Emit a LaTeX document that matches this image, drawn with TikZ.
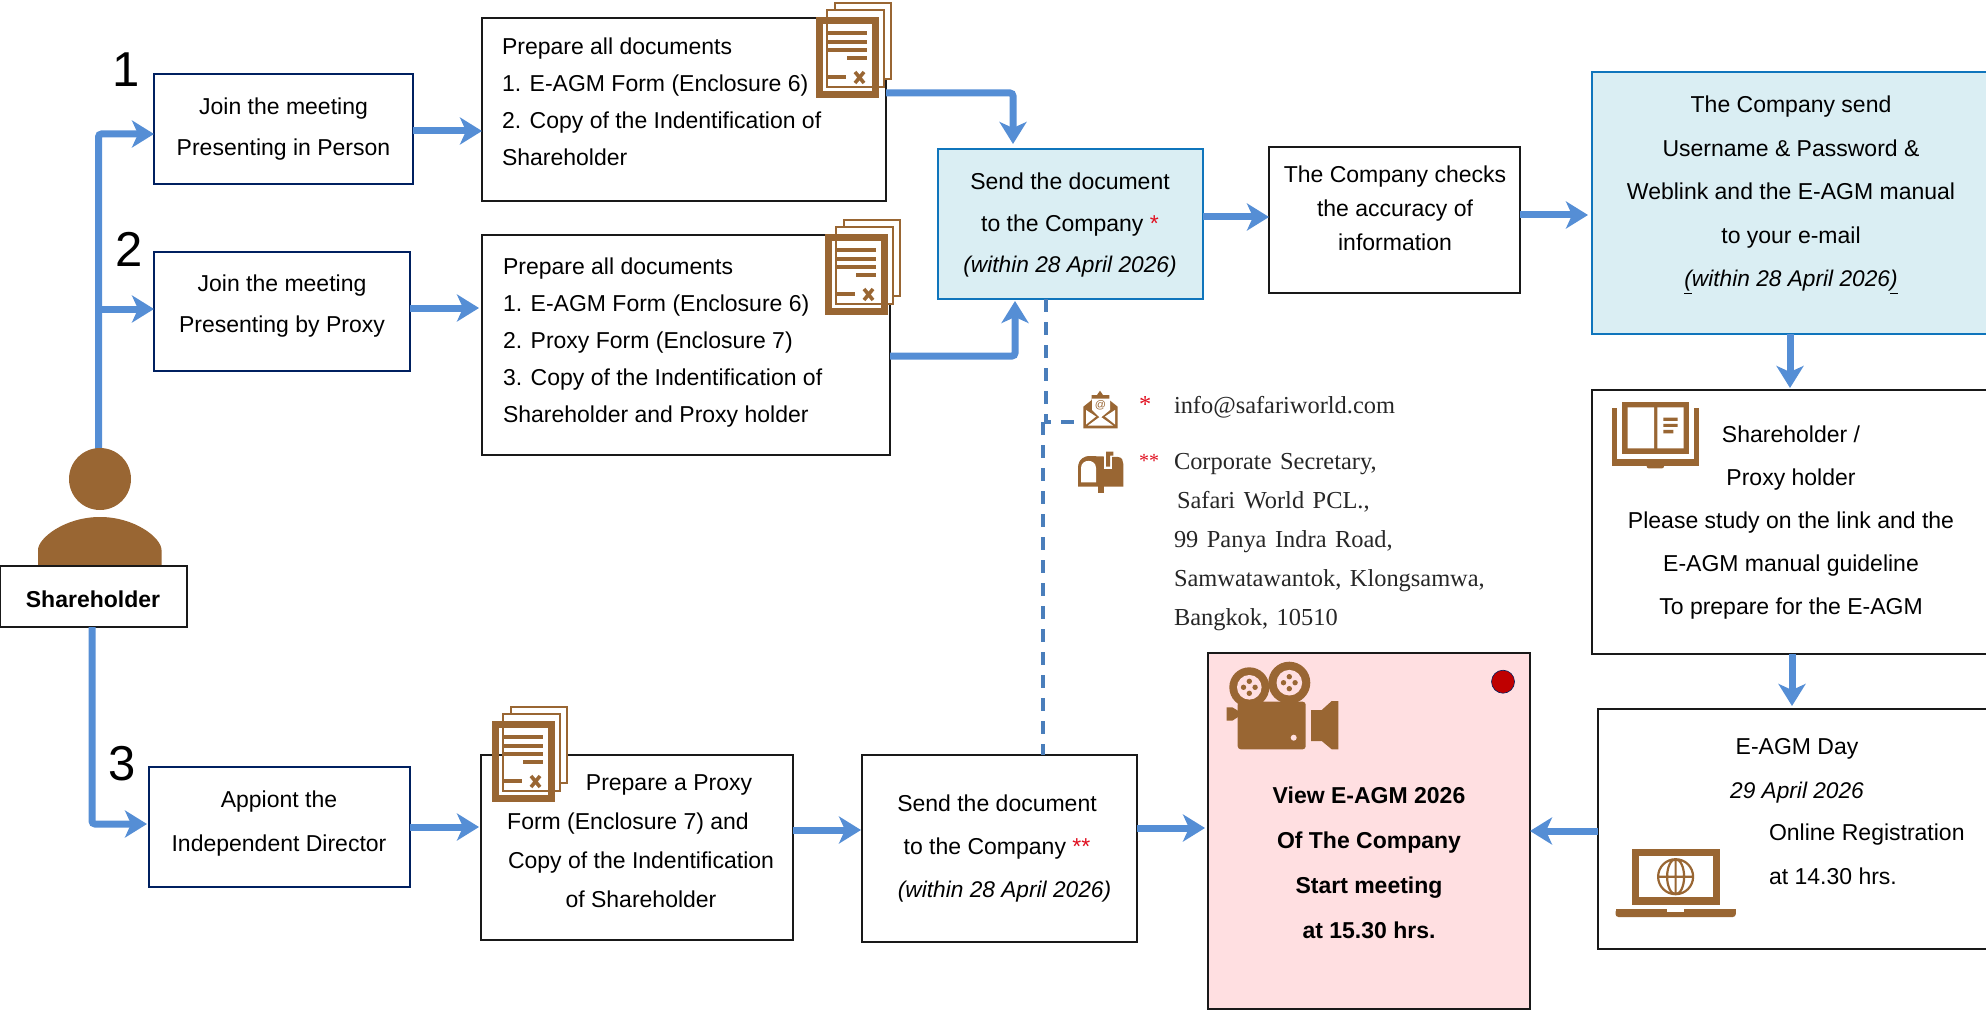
\documentclass[tikz,border=0pt]{standalone}
\usepackage{fontspec}
\setmainfont{Liberation Sans}
\newfontfamily\addrfont[WordSpace=1.4]{Liberation Serif}
\usetikzlibrary{arrows.meta,calc}
\definecolor{iconbrown}{HTML}{996633}
\definecolor{flowblue}{HTML}{558ED5}
\definecolor{dashblue}{HTML}{4A7EBB}
\definecolor{navybox}{HTML}{002060}
\definecolor{sendblue}{HTML}{0F75BC}
\definecolor{paleblue}{HTML}{DAEEF3}
\definecolor{palepink}{HTML}{FFDFE1}
\definecolor{starred}{HTML}{E01020}
\newcommand\cblk[2]{\vtop{\baselineskip=#1pt\lineskiplimit=-1000pt\lineskip=0pt\halign{\hfil##\hfil\cr#2}}}
\newcommand\lblk[2]{\vtop{\baselineskip=#1pt\lineskiplimit=-1000pt\lineskip=0pt\halign{##\hfil\cr#2}}}
\newcommand\bx[6]{\pgfmathsetmacro\bxw{#5-#3}\pgfmathsetmacro\bxh{#6-#4}%
  \node[#1,minimum width=\bxw pt,minimum height=\bxh pt,anchor=north west] (#2) at (#3,#4) {};}
\newcommand\redstar[1]{\textcolor{starred}{#1}}
\newcommand\docicon[2]{\begin{scope}[shift={(#1,#2)}]
  \draw[iconbrown,line width=1.6pt,fill=white] (19,-14) rectangle (75,62);
  \draw[iconbrown,line width=1.6pt,fill=white] (11,-7) rectangle (68,70);
  \draw[iconbrown,line width=7.5pt] (3.7,3.7) rectangle (59.3,77.3);
  \draw[iconbrown,line width=4pt] (12,16) -- (51,16) (12,25) -- (51,25) (12,33) -- (51,33) (31,41) -- (51,41) (12,60) -- (30,60);
  \draw[iconbrown,line width=3.6pt] (39,55) -- (48,66) (48,55) -- (39,66);
\end{scope}}
\tikzset{
  x=1pt,y=-1pt,
  blackbox/.style={draw=black!90,line width=2.4pt,fill=white,inner sep=0pt,outer sep=0pt},
  navyframe/.style={draw=navybox,line width=2.8pt,fill=white,inner sep=0pt,outer sep=0pt},
  sendframe/.style={draw=sendblue,line width=2.8pt,fill=paleblue,inner sep=0pt,outer sep=0pt},
  viewframe/.style={draw=black!90,line width=2.4pt,fill=palepink,inner sep=0pt,outer sep=0pt},
  flow/.style={draw=flowblue,line width=7pt,rounded corners=3pt,-{Stealth[length=22pt,width=27pt,inset=6pt]}},
  dashflow/.style={draw=dashblue,line width=3.2pt,dash pattern=on 13pt off 10pt},
  txt/.style={inner sep=0pt,outer sep=0pt,anchor=base,font=\fontsize{23}{28}\selectfont},
  addr/.style={inner sep=0pt,outer sep=0pt,anchor=base west,font=\addrfont\fontsize{24.4}{28}\selectfont,text=black!85},
  digit/.style={inner sep=0pt,outer sep=0pt,anchor=base,font=\fontsize{49}{50}\selectfont},
}
\newcommand\itl[1]{{\fontsize{22.7}{28}\selectfont\itshape #1}}
\begin{document}
\begin{tikzpicture}
\useasboundingbox (0,0) rectangle (1986,1011);
% boxes
\bx{navyframe}{j1}{154}{74}{413}{184}
\bx{navyframe}{j2}{154}{252}{410}{371}
\bx{navyframe}{j3}{149}{767}{410}{887}
\bx{blackbox}{p1}{482}{18}{886}{201}
\bx{blackbox}{p2}{482}{235}{890}{455}
\bx{blackbox}{p3}{481}{755}{793}{940}
\bx{sendframe}{send}{938}{149}{1203}{299}
\bx{blackbox}{check}{1269}{147}{1520}{293}
\bx{sendframe}{company}{1592}{72}{1996}{334}
\bx{blackbox}{study}{1592}{390}{1996}{654}
\bx{blackbox}{day}{1598}{709}{1996}{949}
\bx{blackbox}{send2}{862}{755}{1137}{942}
\bx{viewframe}{view}{1208}{653}{1530}{1009}
% connectors
\draw[flow] (98.5,460) |- (j1.west |- 0,134);
\draw[flow] (98.5,309) -- (j2.west |- 0,309);
\draw[flow] (j1.east |- 0,131) -- (p1.west |- 0,131);
\draw[flow] (j2.east |- 0,308) -- ($(p2.west |- 0,308)+(-3,0)$);
\draw[flow] (p1.east |- 0,93) -| ($(1013,0 |- send.north)+(0,-5)$);
\draw[flow] (p2.east |- 0,356) -| ($(1015,0 |- send.south)+(0,2)$);
\draw[flow] (send.east |- 0,217) -- (check.west |- 0,217);
\draw[flow] (check.east |- 0,215) -- ($(company.west |- 0,215)+(-4,0)$);
\draw[flow] (1790,0 |- company.south) -- ($(1790,0 |- study.north)+(0,-2)$);
\draw[flow] (1792,0 |- study.south) -- ($(1792,0 |- day.north)+(0,-3)$);
\draw[flow] (day.west |- 0,831) -- (view.east |- 0,831);
\draw[flow] (send2.east |- 0,828) -- ($(view.west |- 0,828)+(-3,0)$);
\draw[flow] (p3.east |- 0,830) -- ($(send2.west |- 0,830)+(-1,0)$);
\draw[flow] (j3.east |- 0,827) -- ($(p3.west |- 0,827)+(-2,0)$);
% dashed links
\coordinate (envelopeport) at (1083,422);
\draw[dashflow] (1046,0 |- send.south) -- (1046,422) -- (envelopeport);
\draw[dashflow] (1043,422) -- (1043,0 |- send2.north);
% person
\fill[iconbrown] (38,568) -- (38,550) .. controls (38,538) and (65,517) .. (100,517) .. controls (135,517) and (161.5,538) .. (161.5,550) -- (161.5,568) -- cycle;
\node[circle,fill=iconbrown,minimum size=62pt,inner sep=0pt,outer sep=0pt] (head) at (100,479) {};
\bx{blackbox}{holder}{0}{566}{187}{627}
\draw[flow] (92,0 |- holder.south) |- ($(j3.west |- 0,824)+(-2,0)$);
% digits
\node[digit] (n1) at (126,87) {1};
\node[digit] (n2) at (129,266) {2};
\node[digit] (n3) at (122,780) {3};
% icons
\docicon{816}{17}
\docicon{825}{234}
\docicon{492}{721}
% texts
\node[txt,font=\fontsize{23}{28}\selectfont\bfseries] (tholder) at (93,607) {Shareholder};
\node[txt] (tj1) at (283.5,114.5) {\cblk{41}{Join the meeting\cr Presenting in Person\cr}};
\node[txt] (tj2) at (282,291) {\cblk{41.5}{Join the meeting\cr Presenting by Proxy\cr}};
\node[txt] (tj3) at (279,807) {\cblk{44}{Appiont the\cr Independent Director\cr}};
\node[txt,anchor=base west] (tp1) at (502,54.3) {\lblk{37}{Prepare all documents\cr 1. E-AGM Form (Enclosure 6)\cr 2. Copy of the Indentification of\cr Shareholder\cr}};
\node[txt,anchor=base west] (tp2) at (503,274) {\lblk{37}{Prepare all documents\cr 1. E-AGM Form (Enclosure 6)\cr 2. Proxy Form (Enclosure 7)\cr 3. Copy of the Indentification of\cr Shareholder and Proxy holder\cr}};
\node[txt] (tp3) at (641,790) {\cblk{39.3}{\kern56pt Prepare a Proxy\cr Form (Enclosure 7) and\kern26pt\cr Copy of the Indentification\cr of Shareholder\cr}};
\node[txt] (tsend) at (1070,190) {\cblk{41.5}{Send the document\cr to the Company \redstar{*}\cr \itl{(within 28 April 2026)}\cr}};
\node[txt] (tcheck) at (1395,183) {\cblk{34}{The Company checks\cr the accuracy of\cr information\cr}};
\node[txt] (tcompany) at (1791,113) {\cblk{43.5}{The Company send\cr Username \& Password \&\cr Weblink and the E-AGM manual\cr to your e-mail\cr \itl{\underline{(}within 28 April 2026\underline{)}}\cr}};
\node[txt] (tstudy) at (1791,442) {\cblk{43.2}{Shareholder /\cr Proxy holder\cr Please study on the link and the\cr E-AGM manual guideline\cr To prepare for the E-AGM\cr}};
\node[txt] (tday) at (1797,754) {\cblk{44}{E-AGM Day\cr \itl{29 April 2026}\cr}};
\node[txt,anchor=base west] (treg) at (1769,840.5) {\lblk{43.5}{Online Registration\cr at 14.30 hrs.\cr}};
\node[txt,font=\fontsize{23}{28}\selectfont\bfseries] (tview) at (1369,803) {\cblk{45}{View E-AGM 2026\cr Of The Company\cr Start meeting\cr at 15.30 hrs.\cr}};
\node[txt] (tsend2) at (997,811.2) {\cblk{43.3}{Send the document\cr to the Company \redstar{**}\cr \kern15pt\itl{(within 28 April 2026)}\cr}};
% address
\node[addr,text=starred] (star1) at (1139,412) {*};
\node[addr] (mail) at (1174,413) {info@safariworld.com};
\node[addr,text=starred,font=\addrfont\fontsize{20}{24}\selectfont] (star2) at (1139,467) {**};
\node[addr] (post) at (1174,469) {\lblk{39}{Corporate Secretary,\cr \kern3pt Safari World PCL.,\cr 99 Panya Indra Road,\cr Samwatawantok, Klongsamwa,\cr Bangkok, 10510\cr}};
% envelope icon
\fill[iconbrown] (1083.3,428.3) -- (1083.3,406.7) -- (1091.7,400) -- (1091.7,395) -- (1097,395) -- (1100,390.7) -- (1103,395) -- (1109.3,395) -- (1109.3,400) -- (1117.7,406.7) -- (1117.7,428.3) -- cycle;
\fill[white] (1092,398.5) -- (1110,398.5) -- (1110,410) -- (1100.3,418) -- (1092,410) -- cycle;
\fill[white] (1086,410) -- (1086,424.5) -- (1096,416.5) -- cycle;
\fill[white] (1115,410) -- (1115,424.5) -- (1105,416.5) -- cycle;
\fill[white] (1088,425.5) -- (1100.3,416.5) -- (1113,425.5) -- cycle;
\node[inner sep=0pt,text=iconbrown,font=\fontsize{11}{11}\selectfont] (envat) at (1100.5,405.5) {@};
% mailbox icon
\fill[iconbrown] (1078,486.7) -- (1078,468) .. controls (1078,458) and (1086,456) .. (1089,456) -- (1118,457) .. controls (1122,457) and (1123.3,461) .. (1123.3,464) -- (1123.3,486.7) -- cycle;
\fill[iconbrown] (1098,486) rectangle (1103.7,492.7);
\fill[white] (1081,482.3) -- (1081,468) .. controls (1081,458.5) and (1096,458.5) .. (1096,468) -- (1096,482.3) -- cycle;
\fill[white] (1104.3,450) rectangle (1112,468.5);
\fill[iconbrown] (1106,451.7) -- (1113.3,451.7) -- (1113.3,455.7) -- (1110,455.7) -- (1110,466.7) -- (1106,466.7) -- cycle;
% book icon
\begin{scope}[shift={(1580,380)},x=0.3333pt,y=-0.3333pt]
\fill[iconbrown] (95,85) rectangle (358,258);
\fill[iconbrown,rounded corners=2pt] (200,250) rectangle (252,265);
\fill[white] (110,70) rectangle (343,238);
\fill[iconbrown] (127,65) rectangle (328,222);
\fill[white] (143,82) rectangle (222,205) (232,82) rectangle (311,205);
\fill[iconbrown] (250,113) rectangle (293,123) (250,132) rectangle (293,141) (250,150) rectangle (280,160);
\end{scope}
% camera icon
\foreach \cx/\cy/\cr/\ci in {1249.3/687.3/20/12.3,1289.3/682.7/21/12.8}{
  \fill[iconbrown] (\cx,\cy) circle[radius=\cr pt];
  \fill[palepink] (\cx,\cy) circle[radius=\ci pt];
  \fill[iconbrown] (\cx,\cy-6) circle[radius=2.7pt] (\cx-5.8,\cy) circle[radius=2.7pt] (\cx+5.8,\cy) circle[radius=2.7pt] (\cx,\cy+6) circle[radius=2.7pt];
}
\fill[iconbrown,rounded corners=3pt] (1237.7,701.7) rectangle (1305.7,749.3);
\fill[iconbrown] (1226.7,707.3) -- (1232.3,707.3) -- (1238.5,711) -- (1238.5,716.7) -- (1232.3,720.7) -- (1226.7,720.7) -- cycle;
\fill[iconbrown] (1311,710) -- (1321.7,710) -- (1331.7,701) -- (1338.3,701) -- (1338.3,749.3) -- (1331.7,749.3) -- (1321.7,741) -- (1311,741) -- cycle;
\fill[palepink] (1293.7,737.7) circle[radius=3pt];
\node[circle,draw=navybox,line width=0.6pt,fill=red!75!black,minimum size=23pt,inner sep=0pt] (recdot) at (1503,681.7) {};
% laptop icon
\draw[iconbrown,line width=7pt] (1635,852.5) rectangle (1716.5,901.5);
\fill[iconbrown] (1631.5,897) rectangle (1720,905);
\fill[iconbrown,rounded corners=3pt] (1615.5,909) rectangle (1735.8,917);
\fill[iconbrown] (1615.5,909) rectangle (1735.8,913);
\fill[white] (1667,909) rectangle (1684,911.7);
\draw[iconbrown,line width=2.2pt] (1675.6,876.7) circle[radius=17.5pt] (1675.6,876.7) ellipse[x radius=8.5pt,y radius=17.5pt] (1675.6,859.2) -- (1675.6,894.2) (1658,876.7) -- (1693,876.7);
\end{tikzpicture}
\end{document}
